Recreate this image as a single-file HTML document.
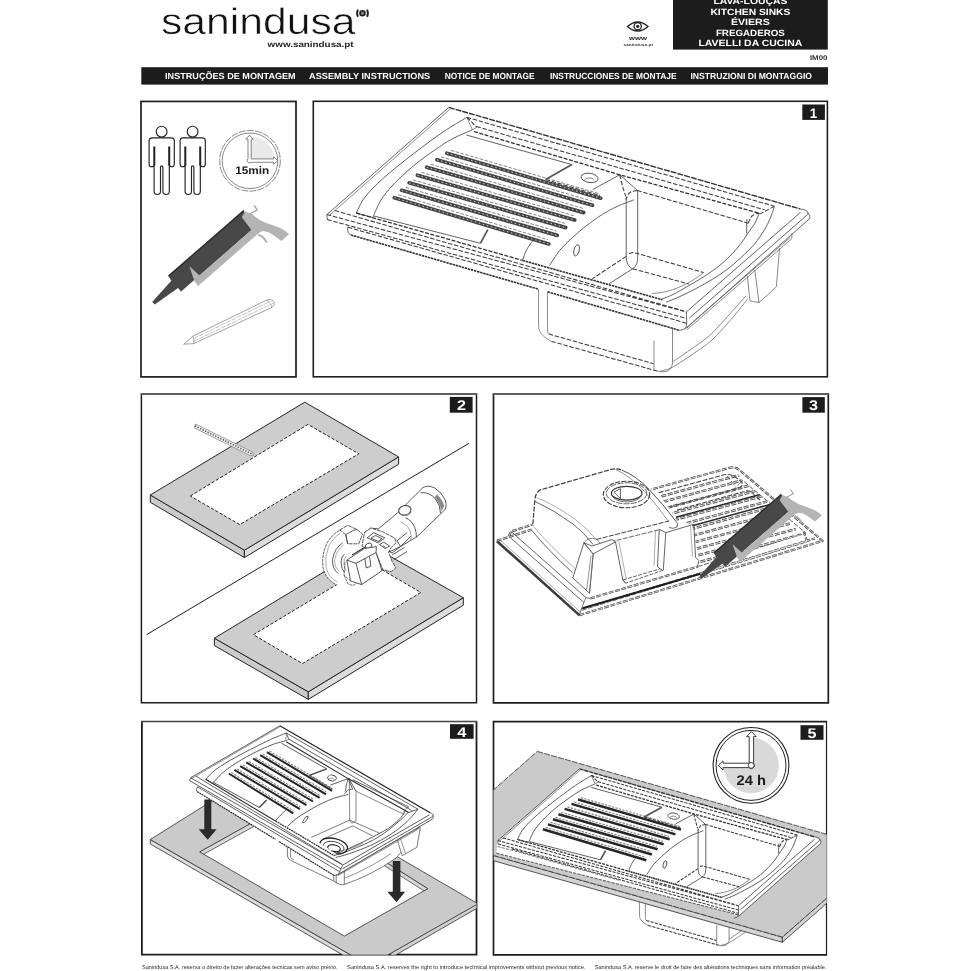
<!DOCTYPE html>
<html lang="pt">
<head>
<meta charset="utf-8">
<title>Sanindusa - Instruções de Montagem</title>
<style>
html,body{margin:0;padding:0;background:#fff;}
body{width:970px;height:971px;overflow:hidden;}
svg{display:block;will-change:transform;filter:grayscale(1);font-family:"Liberation Sans",sans-serif;text-rendering:geometricPrecision;}
</style>
</head>
<body>
<svg width="970" height="971" viewBox="0 0 970 971">
<rect width="970" height="971" fill="#fff"/>
<!-- header -->
<g id="header">
  <text x="160.9" y="34.4" font-size="37" textLength="194.6" lengthAdjust="spacingAndGlyphs" fill="#111" stroke="#fff" stroke-width="0.55" paint-order="fill stroke" style="paint-order:fill stroke">sanindusa</text>
  <g fill="none" stroke="#222" stroke-width="1.2">
    <circle cx="362.5" cy="13.2" r="2.5" fill="#777" stroke-width="1.6"/>
    <path d="M357.9 9.6 Q356.2 13.2 357.9 16.8 M367.1 9.6 Q368.8 13.2 367.1 16.8" stroke-width="1.9"/>
  </g>
  <text x="267.6" y="46.6" font-size="8" font-weight="bold" textLength="86" lengthAdjust="spacingAndGlyphs" fill="#222">www.sanindusa.pt</text>
  <!-- eye icon -->
  <g fill="none" stroke="#222" stroke-width="1.3">
    <path d="M627.5 26.5 Q637.7 17.5 648 26.5 Q637.7 35.5 627.5 26.5 Z"/>
    <circle cx="637.7" cy="26.3" r="3.6"/>
    <circle cx="637.7" cy="26.3" r="1.6" fill="#222" stroke="none"/>
  </g>
  <text x="629" y="40" font-size="5.6" font-weight="bold" textLength="18" lengthAdjust="spacingAndGlyphs" fill="#222">www</text>
  <text x="623.5" y="45.8" font-size="3.6" font-weight="bold" textLength="29.5" lengthAdjust="spacingAndGlyphs" fill="#444">sanindusa.pt</text>
  <rect x="673" y="0" width="154.8" height="49.6" fill="#1c1c1c"/>
  <g fill="#fff" font-size="9" font-weight="bold" text-anchor="middle">
    <text x="750.4" y="4.2" textLength="74" lengthAdjust="spacingAndGlyphs">LAVA-LOUÇAS</text>
    <text x="750.4" y="14.5" textLength="80" lengthAdjust="spacingAndGlyphs">KITCHEN SINKS</text>
    <text x="750.4" y="25.1" textLength="39" lengthAdjust="spacingAndGlyphs">ÉVIERS</text>
    <text x="750.4" y="35.7" textLength="69" lengthAdjust="spacingAndGlyphs">FREGADEROS</text>
    <text x="750.4" y="46.3" textLength="104" lengthAdjust="spacingAndGlyphs">LAVELLI DA CUCINA</text>
  </g>
  <text x="809.9" y="60.3" font-size="6.8" font-weight="bold" textLength="17.6" lengthAdjust="spacingAndGlyphs" fill="#333">IM00</text>
  <rect x="141.3" y="67.2" width="686.7" height="17.4" fill="#1c1c1c"/>
  <g fill="#fff" font-size="8.8" font-weight="bold">
    <text x="165.1" y="78.8" textLength="130.6" lengthAdjust="spacingAndGlyphs">INSTRUÇÕES DE MONTAGEM</text>
    <text x="309.1" y="78.8" textLength="121.1" lengthAdjust="spacingAndGlyphs">ASSEMBLY INSTRUCTIONS</text>
    <text x="444.8" y="78.8" textLength="89.8" lengthAdjust="spacingAndGlyphs">NOTICE DE MONTAGE</text>
    <text x="549.9" y="78.8" textLength="126.7" lengthAdjust="spacingAndGlyphs">INSTRUCCIONES DE MONTAJE</text>
    <text x="690.4" y="78.8" textLength="121.6" lengthAdjust="spacingAndGlyphs">INSTRUZIONI DI MONTAGGIO</text>
  </g>

</g>

<!-- frames -->
<g fill="none" stroke="#1e1e1e" stroke-width="1.7">
  <rect x="141" y="101.45" width="155" height="275.45"/>
  <rect x="313.3" y="101.3" width="514.1" height="275.5" stroke-width="1.6"/>
  <path d="M141.4 394 V702.8 H476.5 V394" stroke-width="1.5"/>
  <path d="M140.6 394 H477.3" stroke="#5e5e5e" stroke-width="1.8"/>
  <path d="M493.5 394 V702.8 H828.3 V394"/>
  <path d="M492.6 394 H829.2" stroke="#5e5e5e" stroke-width="1.8"/>
  <path d="M141.9 721.5 V954.7 H476.5 V721.5" stroke-width="1.8"/>
  <path d="M141 721.5 H477.2" stroke="#444" stroke-width="1.6"/>
  <path d="M826.5 721.6 V954.8" stroke-width="1.2"/>
  <path d="M827.1 721.6 H493.5 V954.8 H827.1" stroke-width="1.7"/>
</g>

<!-- panel 0 : tools -->
<g id="p0">
  <defs>
    <g id="person" fill="#fff" stroke="#222" stroke-width="1.15" stroke-linejoin="round">
      <path d="M152 137.8 H171.3 Q174.3 137.8 174.3 140.8 V164.2 A2.5 2.5 0 0 1 169.3 164.2 V191.3 A3.2 3.2 0 0 1 162.9 191.3 V167 A1.2 1.2 0 0 0 160.5 167 V191.3 A3.2 3.2 0 0 1 154.1 191.3 V164.2 A2.5 2.5 0 0 1 149.1 164.2 V140.8 Q149.1 137.8 152 137.8 Z"/>
      <path d="M154.3 146.4 V165.6 M169.2 146.4 V165.6" stroke-width="2" fill="none"/>
      <circle cx="161.6" cy="131.7" r="5.4"/>
    </g>
  </defs>
  <use href="#person"/>
  <use href="#person" x="31"/>
  <!-- clock -->
  <g fill="none" stroke="#6a6a6a" stroke-width="0.8">
    <path d="M250.6 159.4 V136.5 A24 24 0 0 1 274.6 159.4 Z" fill="#e9e9e9" stroke="none"/>
    <circle cx="250" cy="160.8" r="30.3" stroke-dasharray="7 1.2"/>
    <circle cx="250" cy="160.8" r="27.8"/>
    <path d="M248 158.6 V139.2 H246 L249.6 135.2 L253.2 139.2 H251.2 V158.9 H273.6 V156.9 L277.8 160.6 L273.6 164.3 V162.3 H251 A1.9 1.9 0 1 1 248 158.6 Z" fill="#fff" stroke="#666" stroke-width="0.8"/>
  </g>
  <text x="235.2" y="174" font-size="10.9" font-weight="bold" textLength="34" lengthAdjust="spacingAndGlyphs" fill="#1a1a1a">15min</text>
  <!-- caulk gun -->
  <g id="gun">
    <path d="M243.8 210.5 L251.5 230.1 L181.1 291.5 L178 287.9 L154.8 304.4 L152.2 301.9 L171.3 280.7 L168.5 276.1 Z" fill="#4b4745"/>
    <path d="M243.8 210.5 L168.5 276.1" stroke="#2a2727" stroke-width="1.4" fill="none"/>
    <path d="M245 211.3 L241.8 217.2 L251.5 230.1 L199.6 275.4 L189.3 266.3 L194.5 281.2 L198.1 285.9 L255.7 235.7 Q259 232.3 262.9 231.1 Q268 231.3 272.5 234.4 L281.4 240.9 L288.9 234 Q285 230.3 280.4 228 L272.2 224.9 Q263 222.5 255.7 217.2 Q252 213.5 248 212.6 Z" fill="#b7b3b2"/>
    <path d="M258.2 234.7 Q264 236.5 266.5 242.4" stroke="#b2aeae" stroke-width="2" fill="none"/>
    <path d="M249.5 214 L257.2 210 L254.1 205.3" stroke="#a5a2a2" stroke-width="1.3" fill="none"/>
  </g>
  <!-- pencil -->
  <g fill="none" stroke="#777" stroke-width="0.7">
    <path d="M183.7 344.2 L192.8 336.2 L267.2 299.8 Q272.5 298.8 274.3 302.2 Q275 305.5 272 307.3 L193.8 343.6 Z" fill="#fff"/>
    <path d="M192.8 336.2 Q194.5 339.5 193.8 343.6"/>
    <path d="M193.6 338.6 L270.5 301.2 M194 341.2 L273 303.4" stroke="#999" stroke-width="0.6" stroke-dasharray="5 1"/>
    <path d="M267.2 299.8 Q270 303 272 307.3" stroke="#999"/>
  </g>
</g>

<!-- panel 1 sink -->
<g id="p1" stroke-linejoin="round" stroke-linecap="butt">
<path d="M446.9 153.2L600.7 198.2M437 159.8L592.5 205.3M426.7 167.2L583.7 212.6M417.4 175.2L574.7 220M409.2 182.8L565.7 227.6M401.7 190.3L557.2 235.4M394.3 197.7L548.8 244" fill="none" stroke="#454545" stroke-width="3.7" stroke-linecap="round"/>
<path d="M446.9 153.2L600.7 198.2M437 159.8L592.5 205.3M426.7 167.2L583.7 212.6M417.4 175.2L574.7 220M409.2 182.8L565.7 227.6M401.7 190.3L557.2 235.4M394.3 197.7L548.8 244" fill="none" stroke="#c8c8c8" stroke-width="1" stroke-dasharray="1.6 2.6"/>
<path d="M450.9 150.3L599.9 193.9M441 156.9L591.7 201M430.7 164.3L582.9 208.3M421.3 172.3L573.8 215.7M413.1 179.9L564.8 223.3M405.7 187.4L556.4 231.1M398.3 194.8L548 239.7" fill="none" stroke="#666" stroke-width="0.8" stroke-dasharray="3.5 1.5"/>
<path d="M448.8 107.4L800 208.9" fill="none" stroke="#333" stroke-width="1.4" stroke-dasharray="6 1"/>
<path d="M800 208.9C800.9 209.1 804.2 209.6 805.5 210.2C806.8 210.8 807.4 211.5 807.8 212.2C808.1 212.9 807.6 214.1 807.6 214.5M448.8 107.4L326.9 214.6M326.9 214.6L327 217.5L327.6 220M800.5 212.4L686.3 312M807.3 214.8L689.5 318M809.6 218.6L690.2 324.6M807.7 212.5C808 213 809.4 214.5 809.7 215.5C810 216.5 809.6 218.1 809.6 218.6M686.3 312C686.3 314 686.9 321.2 686.6 324C686.4 326.8 685.9 327.5 684.8 328.6C683.7 329.7 680.6 330.1 679.8 330.4M690.2 324.6L686.8 328.2M466.8 117.3C462.8 119.8 451 126.6 443 132C435 137.4 426 144.2 419 149.5C412 154.8 406.5 159.1 401 163.5C395.5 167.9 390.8 171.7 386 175.9C381.2 180.1 376.4 184.5 372.5 188.5C368.6 192.5 365.6 195.9 362.9 200C360.2 204.1 357.4 210.8 356.3 213M472.4 129.8C469 131.3 458.1 135.7 452 139C445.9 142.3 440.9 145.8 435.5 149.5C430.1 153.2 424.4 157.2 419.5 161C414.6 164.8 410.4 168.4 405.8 172.6C401.2 176.8 396.1 181.4 392 186C387.9 190.6 384.2 194.8 381 200C377.8 205.2 374.3 214.2 373 217M356.3 213L373 217.6M347.6 226.8C347.7 227.8 347.6 231.1 348.2 232.5C348.8 233.9 350.5 234.6 351 235M466.4 135L572 164.6M374 216L480.4 243.3M619.8 174.8L592.6 189.6M619.8 174.8L637.3 190.4M634 199.8C631.2 200.9 622.2 204.1 617 206.5C611.8 208.9 607.7 211.1 602.5 214.3C597.3 217.6 591.1 222.1 586 226C580.9 229.9 576.4 233.9 572 238C567.6 242.1 563.4 245.9 559.6 250.5C555.9 255.1 551.2 263.1 549.5 265.6M532.4 241.2C531.4 242.7 528.1 246.8 526.5 250C524.9 253.2 523.2 258.7 522.5 260.4M626.2 198L626.2 256.4M637.7 190.5L637.7 256.4M626.2 256.4C626.4 257.7 626.5 262 627.6 264C628.7 266 631.1 268.7 632.6 268.6C634.1 268.5 635.9 265.5 636.8 263.5C637.6 261.5 637.6 257.6 637.7 256.4M632.8 268.8L608.9 283.8M746.8 219L746.6 233.5M774.4 206.2C773.9 207.7 773 211.4 771.5 215C770 218.6 768.4 223.1 765.5 228C762.6 232.9 758.3 239.5 754.2 244.4C750.1 249.3 745.5 253.3 741 257.5C736.5 261.7 731.8 265.8 727 269.5C722.2 273.2 717 276.4 712 279.5C707 282.6 702.3 285.2 697 288C691.7 290.8 685.2 294.1 680 296.5C674.8 298.9 668.3 301.2 666 302.2M759.2 213.1C758.5 214.8 756.6 220 755 223C753.4 226 751.6 227.8 749.3 231.2C747 234.6 744 239.5 741 243.5C738 247.5 734.7 251.2 731 255C727.3 258.8 723.5 262.4 719 266C714.5 269.6 709.1 273.2 704 276.5C698.9 279.8 693.4 283 688.2 286C683 289 677.5 292.3 673 294.5C668.5 296.7 663 298.6 661 299.4" fill="none" stroke="#3a3a3a" stroke-width="0.8"/>
<path d="M326.9 214.6L686.3 312M466.8 117.3L774.4 206.2M476.5 126.6L764.5 209.8M774.4 206.2L760.7 213.6M466.8 117.3L476.9 127.2M334.8 210.6L684 311M327.3 219.6L686.4 318.4M348 227.3L686.5 323.2M545.6 179.5L600 195.6M619.8 174.8C620.2 176.7 621.5 182.4 622.5 186C623.5 189.6 625.2 194.6 625.8 196.3M637.3 190.4C636.1 190.8 631.9 191 630 192.5C628.1 194 626.5 198.3 625.8 199.5M626.2 256.4L592.4 278.7M629 253.4L633 252.4L637.7 253.6L703.7 272.6M632.8 268.8L688.9 284M637.3 190.4L748.2 223.2M748.2 223.2C748.8 222 750.2 217.7 752 216C753.8 214.3 758 213.6 759.2 213.1M551.5 341.4L657.3 371.1M548.8 334L653.6 363.7" fill="none" stroke="#3c3c3c" stroke-width="1.05" stroke-dasharray="4.5 1.7"/>
<path d="M450.6 108.6L329.2 215.6M684.7 329.2L790.3 237.4M686.5 330.2L791.8 238.6L792 233M466.8 117.3L472.4 129.8L476.9 127.2M703.7 272.6C701.4 274.2 694.6 279.4 690 282C685.4 284.6 680.3 286.8 676 288.5C671.7 290.2 668 291.1 664 292C660 292.9 654 293.3 652 293.6M584 180.3C584.5 180 585.7 178.7 587 178.3C588.3 178 590.8 177.9 592 178.2C593.2 178.5 594.1 179.9 594.5 180.2M538.6 289.2C538.6 295 538.3 316.8 538.6 324C538.9 331.2 539.3 330.2 540.5 332.5C541.7 334.8 544.2 336.5 546 338C547.8 339.5 550.6 340.8 551.5 341.4M547.5 291.8C547.5 297.8 547.3 321 547.5 328C547.7 335 548.6 333 548.8 334M654 340.5L654 370.2M672.5 328.2L672.5 364M657.3 371.1C658.4 371.2 662 372.1 664 371.8C666 371.6 668.1 370.9 669.5 369.6C670.9 368.3 672 364.9 672.5 364M660 371.3C662 370.7 667 370.1 672 367.5C677 364.9 683.8 360.2 690 356C696.2 351.8 704 346.8 709.5 342.2C715 337.6 718.9 332.9 723 328.5C727.1 324.1 730.1 320.7 734.2 315.8C738.3 310.9 745.2 302.1 747.4 299.3M672.5 362C675.4 360 683.8 354.4 690 350C696.2 345.6 704.2 340.2 709.5 335.6C714.8 331 718.1 326.6 722 322.5C725.9 318.4 728.6 315.2 732.6 310.8C736.6 306.4 743.6 298.5 745.8 296M747.4 276.2L749.9 300.9L759 302.6L776.3 286.9L779.6 248.1M754.8 270L759 302.6" fill="none" stroke="#585858" stroke-width="0.7"/>
<path d="M474 131.6L619.8 174.8L760.7 213.6M356.3 213L522.5 260.4" fill="none" stroke="#333" stroke-width="1.3" stroke-dasharray="4 1.5"/>
<path d="M522.5 260.4L662.5 299.8M351 235L538.6 289.2M547.5 291.8L679.8 330.4" fill="none" stroke="#333" stroke-width="1.6" stroke-dasharray="2.5 0.7"/>
<path d="M572 164.6L545.6 179.5M480.4 243.3L487.8 229.7" fill="none" stroke="#555" stroke-width="1.7"/>
<ellipse cx="0" cy="0" rx="2.6" ry="5.8" fill="none" stroke="#3a3a3a" stroke-width="0.8" transform="matrix(1.000 0.000 0.000 1.000 576.6 250.3) rotate(14)"/>
<ellipse cx="0" cy="0" rx="8.6" ry="4.6" fill="none" stroke="#3a3a3a" stroke-width="0.8" transform="matrix(1.000 0.000 0.000 1.000 589.6 177.9) rotate(8)"/>
</g>

<!-- panel 2 : cutting -->
<g id="p2" stroke-linejoin="round">
  <!-- countertop A -->
  <g stroke="#242424" stroke-width="1">
    <path d="M150.3 495 L244.4 550.2 L244.4 557.6 L150.3 502.3 Z" fill="#cdcbca"/>
    <path d="M244.4 550.2 L398.6 456.9 L398.6 464.2 L244.4 557.6 Z" fill="#dddcdb"/>
    <path d="M150.3 495 L304.8 402.2 L398.6 456.9 L244.4 550.2 Z" fill="#cfcdcc"/>
    <path d="M190.3 496 L308 424.4 L358.8 453.8 L239.8 524.6 Z" fill="#fff" stroke="#222" stroke-width="1" stroke-dasharray="3.2 1.8"/>
  </g>
  <!-- pencil strip -->
  <g stroke="#6a6a6a" stroke-width="0.6" fill="#f2f2f2">
    <path d="M195.4 424 L252.6 452 L253.4 455.4 L250.4 455.6 L194.4 428 Z"/>
    <path d="M195 426 L251.6 453.8" stroke-dasharray="1.4 1.4" stroke="#5a5a5a" stroke-width="1.6" fill="none"/>
  </g>
  <!-- diagonal -->
  <path d="M146.7 634.6 L469 443.3" stroke="#1e1e1e" stroke-width="1" fill="none"/>
  <!-- countertop B -->
  <g stroke="#242424" stroke-width="1">
    <path d="M214.4 638.2 L308.3 691.8 L308.3 699.4 L214.4 645.6 Z" fill="#cdcbca"/>
    <path d="M308.3 691.8 L463.3 597.7 L463.3 605.2 L308.3 699.4 Z" fill="#dddcdb"/>
    <path d="M214.4 638.2 L369.2 544.5 L463.3 597.7 L308.3 691.8 Z" fill="#cfcdcc"/>
    <path d="M253.4 634.7 L371.7 563.6 L420.8 592.5 L302.5 663.6 Z" fill="#fff" stroke="#222" stroke-width="1" stroke-dasharray="3.2 1.8"/>
  </g>
  <!-- grinder -->
  <g id="grinder" stroke="#3a3a3a" stroke-width="0.85" fill="#fff">
    <!-- disc -->
    <path d="M339.5 530.6 Q331 535 326.2 545 Q321.5 556.5 323 567.5 Q325.5 579.5 336.6 584.8 L352 582 L352 534 Z" stroke="none"/>
    <path d="M339.5 530.6 Q331 535 326.2 545 Q321.5 556.5 323 567.5 Q325.5 579.5 336.6 584.8" fill="none" stroke="#4a4a4a" stroke-dasharray="3 0.8" stroke-width="0.9"/>
    <path d="M340.6 533 Q333 537.5 328.6 546.6 Q324.6 557 326 567 Q328.3 577.6 337.4 582" fill="none" stroke="#777" stroke-width="0.6"/>
    <path d="M342.6 542.9 Q334.5 548 332.5 559.6 Q332.3 569.5 338.4 573.5" fill="none" stroke="#444"/>
    <path d="M343.6 545.2 Q336.5 550 334.6 560 Q334.6 568 339.2 571.2" fill="none" stroke="#777" stroke-width="0.6"/>
    <path d="M344.6 554 Q340.6 557.5 341.2 563.6 Q341.6 569.4 344.4 572.4" fill="none"/>
    <path d="M346.4 556 Q343.6 559 343.9 563.5 Q344.2 568 346 570.4" fill="none" stroke="#666" stroke-width="0.6"/>
    <!-- guard top -->
    <path d="M339.8 529.9 L347.7 525.3 L357 529.5 L362.5 534.1 L358.8 543.8 L347.7 543.8 L345.8 534.6 Z" stroke-dasharray="4 0.8"/>
    <path d="M345.8 534.6 L353.3 530.4 L357 529.5 M347.7 543.8 L345.8 534.6" fill="none"/>
    <!-- motor body -->
    <path d="M422.9 487.6 Q428 484.6 434.9 488.1 Q442 492.5 445.2 500 Q447.3 506.5 444.6 510 L416.4 537.2 L409.5 541 L400.6 546.5 L392 553 L383 548 L371 540 L364.4 532.7 L370.9 528.1 L378.3 528.9 L397.8 512.6 Z"/>
    <path d="M420.6 492.7 Q429 491.5 435.6 499 Q440.5 505.5 440.5 513.1" fill="none"/>
    <path d="M437 494.5 Q442.5 499.5 444.3 506 L441.2 511.5 Q440.5 503.5 434.5 497.5 Z" fill="#8a8a8a" stroke="none"/>
    <path d="M405.3 517.7 Q412 520.5 414.8 527.5 Q416.6 532.5 416.4 537.2" fill="none"/>
    <path d="M400.5 521.8 Q407.5 524.5 410.2 531 Q411.8 536 410.8 540" fill="none" stroke="#666" stroke-width="0.6"/>
    <ellipse cx="404.8" cy="510.3" rx="6.2" ry="4.7" transform="rotate(-14 404.8 510.3)" stroke="#333" stroke-width="1"/>
    <path d="M399 512.6 Q402.5 517 408 515.4 Q410.6 514.2 411 511.5" fill="none" stroke="#666" stroke-width="0.6"/>
    <path d="M407.1 532.6 L396.9 540.9 L400.6 546.5 M410.8 536.3 L400.6 546.5" fill="none"/>
    <!-- gear head upper housing -->
    <path d="M364.4 532.7 L370.9 528.1 L382.9 531.8 L395 538.3 L395.9 542.9 L391.3 547.5 L388.5 552.2 L392.2 561.5 L395.9 567.9 L391.3 571.7 L382.9 569.8 L376 552.6 L362 546 Z" stroke-dasharray="4 0.8"/>
    <path d="M367.2 537.8 L373.7 532.7 L384.8 537.8 L378.3 542.9 Z M370.9 538.2 L375.5 535.4 L382 538.7 L378.3 541.4 Z" />
    <ellipse cx="368.6" cy="545.7" rx="3.4" ry="2.4" transform="rotate(-25 368.6 545.7)"/>
    <path d="M379.5 544.5 L383.8 542.2 L389.5 546 L385.2 548.6 Z M383 545.7 L385.6 547.4" />
    <path d="M392.2 555 L404.3 547.5 M394 559.6 L407 551.5 M388.5 552.2 L400.6 546.5" fill="none"/>
    <!-- gear box cube -->
    <path d="M346.8 560.1 L364.4 548.5 L376.4 546.6 L376 552.6 L382 570.7 L361.6 584.6 L350.5 580.9 Z"/>
    <path d="M346.8 560.1 L356 563.3 L361.6 584.6 M356 563.3 L376 552.6" fill="none"/>
    <path d="M364.8 558.2 L366.2 568 L370.9 566.1 L369.5 556.4" fill="none"/>
    <path d="M345 562 L344 575 L350.5 580.9 M344 575 L348 584 L353 585.5 L356.5 583" fill="none" stroke="#555" stroke-dasharray="3 0.8"/>
  </g>
</g>

<!-- panel 3 : silicone -->
<g id="p3" fill="none" stroke-linejoin="round">
  <clipPath id="hatch3"><path d="M657 492 L729 473 Q741 472 742 481 L808 533 L700 566 L697 548 L692 524 L677 521 L672 512 Z"/></clipPath>
  <!-- base rim -->
  <g stroke-dasharray="5 1.5">
    <path id="rim3" d="M579.3 615.2 L822.6 540.9 L740 470.5 Q735 466 728.5 468 L651 489.5 M581.5 609.6 L815 538.4 M700.4 573.8 L807 541.2 L803.5 531 M590 598.5 L698 566.5 M496.7 540.9 L532 529.5 M508.8 536.3 L511 531.5 L533 524.5" stroke="#484848" stroke-width="2.2"/>
    <path d="M579.3 615.2 L822.6 540.9 L740 470.5 Q735 466 728.5 468 L651 489.5 M581.5 609.6 L815 538.4 M700.4 573.8 L807 541.2 L803.5 531 M590 598.5 L698 566.5 M496.7 540.9 L532 529.5 M508.8 536.3 L511 531.5 L533 524.5" stroke="#fff" stroke-width="0.7"/>
    <path d="M698 566.5 L806 533 L742 480" stroke-width="1" stroke="#666"/>
    <path d="M508.8 536.3 L583.9 602.5 M511 531.5 L586 597.6" stroke-width="0.9" stroke-dasharray="none" stroke="#555"/>
  </g>
  <path d="M497 541.2 L579.6 615.4" stroke="#3c3c3c" stroke-width="2.6"/>
  <path d="M499.3 539.4 L581.5 613" stroke="#888" stroke-width="0.7"/>
  <path d="M579.5 614 L583.9 602.5 L586 597.6 L590 598.5" stroke="#555" stroke-width="0.8"/>
  <path d="M582.6 608.2 L700.4 573.8" stroke="#1e1e1e" stroke-width="2"/>
  <!-- drainer underside hatch -->
  <g clip-path="url(#hatch3)" stroke-dasharray="5 1.6">
    <path d="M655 498 L745 473.5 M657 503.5 L748 478.8 M661 509.5 L752 484.8 M668 514.5 L757 490.5 M674 520 L762 496.2 M680 525 L767 501.5 M684 531 L772 507 M686 537.5 L778 512.5 M688 544 L784 518 M690 550.5 L790 523.5 M692 557 L796 529 M694 563.5 L802 534.5" stroke="#484848" stroke-width="2.5"/>
    <path d="M655 498 L745 473.5 M657 503.5 L748 478.8 M661 509.5 L752 484.8 M668 514.5 L757 490.5 M674 520 L762 496.2 M680 525 L767 501.5 M684 531 L772 507 M686 537.5 L778 512.5 M688 544 L784 518 M690 550.5 L790 523.5 M692 557 L796 529 M694 563.5 L802 534.5" stroke="#fff" stroke-width="0.8"/>
    <path d="M676 517.3 L760 494.5 M684 528 L770 504.5" stroke="#2a2a2a" stroke-width="1.5" stroke-dasharray="none"/>
  </g>
  <g stroke="#4a4a4a" stroke-width="1.1" stroke-dasharray="5 1.5">
    <path d="M658.6 492.7 L724.1 474.8 Q731 473.5 735 477 L741.4 481.6 Q743.5 485 740.5 487.5 L734 489.5 L669.7 507"/>
    <path d="M677.1 510.1 L746.4 490.9 Q752 490.8 755 495.8 L760 500"/>
    <path d="M727 476 L735.5 486.5 M741 482 L734 489.5" stroke-width="0.8" stroke="#666"/>
  </g>
  <!-- bowl -->
  <g stroke="#3e3e3e" stroke-width="0.8">
    <path d="M532.9 524.2 L534.8 500.1 Q535.5 492.5 540.3 489.9 L612 469.2 Q616.5 468.2 622 470.2" stroke-dasharray="5 1.4" stroke-width="1.2"/>
    <path d="M622 470.2 Q636 475.5 649.3 489.7 Q663 504 675.7 521" stroke-width="0.9"/>
    <path d="M615.5 469.4 Q631 476.5 644.5 491.5 Q657 505 668.5 521.5" stroke="#666" stroke-width="0.7"/>
    <!-- left face arcs -->
    <path d="M535.2 501.5 Q554 510 573 524 Q584 532.5 593.2 544.6"/>
    <path d="M536.5 497.5 Q556 505.5 576 520 Q588 529 596.5 540" stroke="#777" stroke-width="0.6"/>
    <path d="M532.3 531 Q548 550 572.8 573"/>
    <path d="M533.5 526.5 Q550 546 574.5 568" stroke="#777" stroke-width="0.6"/>
    <!-- front top edge -->
    <path d="M596.5 539.4 L669.1 521" stroke-dasharray="5 1.4" stroke-width="1"/>
    <path d="M598 545 L660 529.5" stroke-dasharray="5 1.4" stroke-width="0.9" stroke="#555"/>
    <path d="M583.9 542.8 Q589 536 596.5 539.4 Q600 541.5 602 546.5" stroke="#555" stroke-width="0.7"/>
    <!-- front-left corner & block 1 -->
    <path d="M583.9 542.8 L572.8 578 L589.5 593.2 L593.2 553.9 Z" fill="#fff"/>
    <path d="M583.9 542.8 L593.2 553.9 L615.5 541.9 L612 539.5 L592 546 Z" fill="#fff"/>
    <path d="M593.2 553.9 L589.5 593.2 M591 556 L586.5 590.5" stroke="#666" stroke-width="0.7"/>
    <path d="M615.5 541.9 L622.9 580 L625.5 583.2"/>
    <path d="M618.8 541 L626.2 579"  stroke="#777" stroke-width="0.6"/>
    <!-- notch -->
    <path d="M622.9 580 L660 568.8 L663.3 570.2 L625.5 583.2 Z" stroke-dasharray="4 1.3"/>
    <path d="M659.2 529.3 L657.5 566.5 L660 568.8 M665.8 532.6 L663.3 570.2"/>
    <path d="M655.5 531.5 L654 566" stroke="#777" stroke-width="0.6"/>
    <path d="M659.2 529.3 L665.8 532.6 L693.8 524.3"/>
    <path d="M693.8 524.3 L695.5 557.3 L698.8 560.6 L697.5 566.5" />
    <path d="M690.5 526 L692.5 556.5" stroke="#777" stroke-width="0.6"/>
    <path d="M675.7 521 Q679 523.5 677.2 526.8 Q673.5 529.5 669.1 527.5" stroke="#444"/>
    <!-- drain -->
    <ellipse cx="626.5" cy="494.5" rx="23.2" ry="13.3" stroke-dasharray="5 1.3" stroke-width="1.1"/>
    <ellipse cx="626.5" cy="493.3" rx="20.3" ry="10.5" stroke="#555" stroke-width="0.9" stroke-dasharray="6 1.2"/>
    <ellipse cx="626.7" cy="493.2" rx="15.3" ry="6.9" stroke-width="1.2" stroke="#333"/>
    <path d="M611.6 494.6 Q614 501.5 626.7 502 Q639.5 501.6 641.8 494.6" stroke="#555" stroke-width="0.8"/>
    <path d="M613.9 492.2 L620.5 488.5 L620.5 498.6 Z" stroke="#444" stroke-width="0.8"/>
  </g>
  <!-- gun -->
  <use href="#gun" transform="translate(781.4 494.2) scale(0.897) translate(-243.8 -210.5)"/>
</g>

<!-- panel 4 -->
<clipPath id="clip4"><rect x="141.9" y="721.5" width="334.6" height="233.2"/></clipPath>
<g id="p4" clip-path="url(#clip4)" stroke-linejoin="round">
<!-- countertop p4 -->
<g stroke="#2e2e2e" stroke-width="0.8" stroke-linejoin="round">
  <path d="M150.3 839.5 L349 954 L349 958.5 L150.3 844 Z" fill="#dddcdb"/>
  <path d="M390.6 953.4 L478 903 L478 907.6 L390.6 958 Z" fill="#d3d1d0"/>
  <path d="M150.3 839.5 L255.2 773.9 L478 903.8 L390.6 953.4 L370 965 L349 954 Z" fill="#cccac9"/>
  <path d="M199.8 851.9 L290 801.7 L427.7 888.7 L344.3 936.1 Z" fill="#fff"/>
  <path d="M199.8 851.9 L290 801.7 L427.7 888.7 L424 890.8 L290.5 806.2 L203.6 854.2 Z" fill="#dad8d7" stroke-width="0.7"/>
</g>
<g fill="#2a2a2a">
  <path d="M204.3 799.5 H211.3 V829.2 H216.6 L207.7 839.8 L198.6 829.2 H204.3 Z"/>
  <path d="M392.8 860.9 H400.4 V891.8 H405.2 L396.5 902.3 L387.4 891.8 H392.8 Z"/>
</g>
<!-- p4 underside -->
<g fill="#fff" stroke="#444" stroke-width="0.7" stroke-linejoin="round">
  <path d="M287.4 836 L287.4 856 Q288 859.5 291.5 860.8 L333.8 881 Q340 885.8 344.3 884.5 Q372 875 396 858 L420.3 830 L400 820 Z"/>
  <path d="M333.8 866 L333.8 881 M336.2 867.5 L336.2 883.4 M344.3 870.5 L344.3 884.5" fill="none"/>
  <path d="M344.3 878.4 Q370 868 391 853.5" fill="none" stroke="#666"/>
  <path d="M290.5 839 L290.5 857 Q291.5 859 294 860" fill="none" stroke="#666"/>
  <path d="M397.2 840 L402.2 855.6 L417 847.3 L420.3 827.5 L405 833 Z"/>
  <path d="M400.5 838.5 L405.5 853.8" fill="none" stroke="#666"/>
</g>
<path d="M279.8 725.8L430.2 812.8L433.2 815.3L432.3 819.2L341 872.8L334.1 875.5L197.2 791.6L197.7 786.6L189.6 780.6L190.7 777.7Z" fill="#fff" stroke="none"/>
<path d="M266.9 752.1L332.1 790.8M260.2 755.1L326 794.3M253.1 758.5L319.6 797.8M246.3 762.4L313 801.5M240.2 766.1L306.4 805.2M234.4 769.9L299.9 809.1M228.8 773.5L293.3 813.4" fill="none" stroke="#262626" stroke-width="2"/>
<path d="M269.4 751.1L332.3 788.4M262.7 754.1L326.2 791.9M255.6 757.5L319.7 795.4M248.8 761.4L313.1 799.1M242.7 765.1L306.5 802.8M237 768.9L300.1 806.7M231.3 772.6L293.5 811" fill="none" stroke="#8c8c8c" stroke-width="1.2" stroke-dasharray="2.4 1.2"/>
<path d="M279.8 725.8L430.2 812.8" fill="none" stroke="#222" stroke-width="1.2"/>
<path d="M430.2 812.8C430.6 813 432.1 813.5 432.6 814C433.1 814.4 433.2 814.9 433.2 815.3C433.2 815.8 432.6 816.4 432.5 816.7M279.8 725.8L190.7 777.7M190.7 777.7L190 779.4L189.6 780.9M429.4 814.9L342.8 865M432.2 816.8L342.6 868.8M432.3 819.2L341 872.8M433.1 815.5C433.1 815.8 433.4 816.8 433.2 817.4C433.1 818 432.5 818.9 432.3 819.2M342.8 865C342.2 866.2 340.4 870.6 339.4 872.2C338.5 873.8 338 874.2 337.2 874.8C336.3 875.3 334.6 875.3 334.1 875.5M341 872.8L338.3 874.7M286.3 733C283.6 734.1 275.9 737.1 270.5 739.5C265.1 742 258.7 745.2 253.9 747.7C249 750.1 245.1 752.2 241.2 754.3C237.2 756.4 233.9 758.2 230.4 760.2C226.9 762.2 223.3 764.4 220.3 766.4C217.3 768.4 214.9 770.1 212.5 772.3C210 774.4 206.8 778.1 205.7 779.3M285.8 740.6C283.7 741.3 277.1 742.9 273.2 744.3C269.2 745.7 265.8 747.4 262.1 749C258.4 750.7 254.6 752.6 251.1 754.4C247.6 756.2 244.5 757.9 241.1 760C237.8 762 234 764.3 230.7 766.6C227.4 768.9 224.4 771.1 221.5 773.8C218.5 776.5 214.4 781.5 212.9 783M205.7 779.3L212.8 783.4M197.7 786.6C197.5 787.1 196.5 789.1 196.4 789.9C196.4 790.8 197 791.4 197.2 791.6M281.4 743.2L326.7 768.9M213.7 782.5L259.2 807.4M348.1 778.6L330.3 785.1M348.1 778.6L352.7 789.2M348.4 794.4C346.7 794.8 341.3 796 338 797C334.7 798 332 798.9 328.5 800.4C325 801.9 320.6 804 317 805.9C313.3 807.8 309.9 809.8 306.6 811.9C303.2 813.9 300 815.8 296.9 818.2C293.7 820.6 289.1 824.9 287.5 826.3M285.8 810.5C284.9 811.3 282.1 813.4 280.4 815.2C278.7 816.9 276.3 820 275.5 821M417.9 809.2C417.2 810 415.7 812.1 413.9 814.2C412.1 816.2 410 818.7 407.2 821.4C404.3 824.1 400.2 827.6 396.7 830.2C393.2 832.8 389.8 834.8 386.3 837C382.8 839.1 379.2 841.2 375.7 843C372.2 844.8 368.7 846.3 365.2 847.7C361.8 849.1 358.7 850.3 355.2 851.6C351.7 852.8 347.5 854.3 344.2 855.3C340.9 856.2 336.9 857.1 335.5 857.5M408.2 812.1C407.4 813 404.9 816 403.2 817.6C401.5 819.3 400.2 820.2 398 822C395.9 823.9 393 826.5 390.3 828.7C387.6 830.8 384.9 832.7 381.9 834.7C379 836.6 376 838.5 372.7 840.3C369.4 842 365.6 843.7 362.1 845.3C358.5 846.9 354.8 848.3 351.3 849.7C347.9 851 344.2 852.5 341.2 853.5C338.3 854.5 335 855.1 333.8 855.4" fill="none" stroke="#333" stroke-width="0.8"/>
<path d="M190.7 777.7L342.8 865M286.3 733L417.9 809.2M288.7 739.1L411.8 810.6M417.9 809.2L408.8 812.5M286.3 733L288.8 739.5M195.7 776L341.9 864.2M189.6 780.6L341 868.8M197.7 786.9L339.6 871.7M309.4 775.4L332.4 789.2M348.1 778.6C347.8 779.8 346.9 783.2 346.4 785.4C345.9 787.6 345.4 790.7 345.3 791.7M352.7 789.2C352 789.3 349.8 789.1 348.4 789.8C347 790.6 345 793 344.4 793.6" fill="none" stroke="#3a3a3a" stroke-width="0.8"/>
<path d="M280.4 726.6L191.6 778.5M336.9 875.1L417.1 828.9M337.5 875.9L417.5 829.7L419.2 826.4M286.3 733L285.8 740.6L288.8 739.5M363 843C361.4 843.7 356.5 846.2 353.4 847.4C350.3 848.6 347.1 849.5 344.5 850.2C341.8 850.8 339.7 851.1 337.4 851.3C335.2 851.5 332 851.3 330.9 851.3M328.5 779C328.9 778.8 329.8 778.2 330.6 778.1C331.4 778 332.6 778.1 333.1 778.4C333.7 778.7 333.7 779.6 333.9 779.8" fill="none" stroke="#555" stroke-width="0.6"/>
<path d="M286.2 741.8L348.1 778.6L408.8 812.5M205.7 779.3L275.5 821" fill="none" stroke="#2a2a2a" stroke-width="1.1"/>
<path d="M275.5 821L334.4 855.8M197.2 791.6L275.4 839.3M279.1 841.6L334.1 875.5" fill="none" stroke="#2a2a2a" stroke-width="1.2" stroke-dasharray="2 0.6"/>
<path d="M326.7 768.9L309.4 775.4M259.2 807.4L266.7 800.1" fill="none" stroke="#444" stroke-width="1.4"/>
<ellipse cx="0" cy="0" rx="2.6" ry="5.8" fill="none" stroke="#3a3a3a" stroke-width="1.5" transform="matrix(0.502 0.082 -0.281 0.589 305.4 819.5) rotate(14)"/>
<ellipse cx="0" cy="0" rx="8.6" ry="4.6" fill="none" stroke="#3a3a3a" stroke-width="1.5" transform="matrix(0.505 0.080 -0.273 0.584 332 778) rotate(8)"/>
<!-- p4 bowl + underside (hand drawn) -->
<g fill="none" stroke="#333" stroke-width="0.8" stroke-linejoin="round">
  <!-- bowl interior -->
  <path d="M349.4 778.9 L349.7 820.1 M356 791.2 L356 820.9" stroke="#555" stroke-width="0.7"/>
  <path d="M348.6 778 L356 791.2 M352.7 779.7 L408.8 806.9" />
  <path d="M356 791.2 L403.8 814.3" stroke="#555" stroke-width="0.7"/>
  <path d="M349.7 820.1 Q351 825.5 356 820.9" stroke="#555" stroke-width="0.7"/>
  <path d="M349.7 820.1 L379.9 833.3 M349.7 820.1 L311.4 837.4" stroke="#444" stroke-width="0.7"/>
  <path d="M352.7 825.9 L372.5 835.8 M352.7 825.9 L323 839" stroke="#444" stroke-width="0.7"/>
  <path d="M405.5 811 Q398 824 379.9 833.3 Q364 842 347.7 849" />
  <path d="M408.8 806.9 Q403.5 809 403.8 814.3" stroke="#555" stroke-width="0.7"/>
  <!-- drain -->
  <clipPath id="drclip"><path d="M288 822.6 L345 859.6 L430 812 L350 765 Z"/></clipPath>
  <g clip-path="url(#drclip)">
  <ellipse cx="333.7" cy="846" rx="14" ry="7.6" transform="rotate(12 333.7 846)" stroke="#222" stroke-width="1.3"/>
  <ellipse cx="333.7" cy="847" rx="10.5" ry="5.4" transform="rotate(12 333.7 847)" stroke="#444" stroke-width="0.9"/>
  <ellipse cx="334" cy="848.2" rx="6.4" ry="3.3" transform="rotate(12 334 848.2)" stroke="#222" stroke-width="1.2"/>
  </g>
</g>
</g>

<!-- panel 5 -->
<clipPath id="clip5"><rect x="493.5" y="721.6" width="333.2" height="233.2"/></clipPath>
<g id="p5" clip-path="url(#clip5)" stroke-linejoin="round">
<path d="M639.5 890.5C639.5 894.4 639.3 909 639.5 913.8C639.7 918.6 639.9 917.9 640.7 919.5C641.6 921.1 643.2 922.2 644.4 923.2C645.7 924.2 647.5 925.1 648.1 925.4M645.4 892.3C645.4 896.3 645.3 911.8 645.4 916.5C645.6 921.2 646.2 919.8 646.3 920.5M716.7 924.8L716.7 944.7M729.1 916.6L729.1 940.6M718.9 945.3C719.6 945.4 722 946 723.4 945.8C724.7 945.6 726.1 945.2 727 944.3C728 943.4 728.7 941.2 729.1 940.6M720.7 945.4C722 945 725.4 944.6 728.7 942.9C732.1 941.2 736.6 938 740.8 935.2C744.9 932.4 750.1 929 753.8 926C757.5 922.9 760.1 919.8 762.8 916.8C765.6 913.9 767.6 911.6 770.3 908.3C773.1 905.1 777.7 899.1 779.2 897.3M729.1 939.2C731 937.9 736.6 934.1 740.8 931.2C744.9 928.3 750.2 924.6 753.8 921.6C757.4 918.5 759.6 915.6 762.2 912.8C764.7 910 766.6 907.9 769.3 905C771.9 902 776.6 896.7 778.1 895.1M779.2 881.8L780.8 898.4L786.9 899.5L798.5 889L800.7 863M784.1 877.7L786.9 899.5" fill="none" stroke="#585858" stroke-width="0.7"/>
<path d="M648.1 925.4L718.9 945.3M646.3 920.5L716.4 940.4" fill="none" stroke="#3c3c3c" stroke-width="1.05" stroke-dasharray="3.2 1.2"/>
<!-- countertop p5 -->
<g stroke="#2e2e2e" stroke-width="0.8">
  <path d="M493.5 855.5 L782.3 937.1 L782.3 942.3 L493.5 860.7 Z" fill="#d6d4d3"/>
  <path d="M782.3 937.1 L828 897 L828 902.2 L782.3 942.3 Z" fill="#d3d1d0"/>
  <path d="M537.3 751.4 L828 834.7 L828 897 L782.3 937.1 L493.5 855.5 L480 851.7 L480 801.8 Z" fill="#cccac9" stroke-dasharray="6 1.2"/>
</g>
<path d="M579.4 768.9L814.4 836.8L819.6 839L820.8 843.3L740.9 914.2L738.4 914.8L496.4 853.2L497.4 841.6L497.8 840.6Z" fill="#fff" stroke="none"/>
<path d="M578.1 799.5L681 829.6M571.5 803.9L675.5 834.4M564.6 808.9L669.6 839.3M558.4 814.2L663.6 844.2M552.9 819.3L657.6 849.3M547.9 824.4L651.9 854.5M542.9 829.3L646.3 860.3" fill="none" stroke="#262626" stroke-width="2.5"/>
<path d="M580.8 797.6L680.5 826.8M574.2 802L675 831.5M567.3 806.9L669.1 836.4M561 812.3L663 841.3M555.5 817.4L657 846.4M550.5 822.4L651.4 851.6M545.6 827.4L645.8 857.4" fill="none" stroke="#8c8c8c" stroke-width="1.2" stroke-dasharray="2.4 1.2"/>
<path d="M579.4 768.9L814.4 836.8" fill="none" stroke="#333" stroke-width="1.4" stroke-dasharray="4.3 0.7"/>
<path d="M814.4 836.8C815 836.9 817.2 837.3 818 837.7C818.9 838 819.3 838.5 819.6 839C819.8 839.5 819.5 840.3 819.4 840.6M579.4 768.9L497.8 840.6M497.8 840.6L497.9 842.6L498.3 844.2M814.7 839.1L738.3 905.8M819.2 840.8L740.4 909.8M820.8 843.3L740.9 914.2M819.5 839.2C819.7 839.5 820.6 840.5 820.8 841.2C821.1 841.9 820.8 842.9 820.8 843.3M738.3 905.8C738.3 907.1 738.7 912 738.5 913.8C738.3 915.7 738 916.2 737.3 916.9C736.5 917.6 734.5 917.9 733.9 918.1M740.9 914.2L738.6 916.6M591.4 775.5C588.8 777.2 580.8 781.8 575.5 785.4C570.2 788.9 564.1 793.6 559.5 797.1C554.8 800.6 551.1 803.5 547.4 806.4C543.7 809.4 540.6 811.9 537.4 814.7C534.2 817.5 530.9 820.5 528.4 823.2C525.8 825.8 523.7 828.1 521.9 830.8C520.1 833.6 518.3 838.1 517.5 839.5M595.2 783.9C592.9 784.9 585.7 787.8 581.5 790C577.4 792.2 574.1 794.6 570.5 797.1C566.9 799.5 563.1 802.2 559.8 804.8C556.5 807.3 553.7 809.7 550.6 812.5C547.6 815.3 544.2 818.4 541.4 821.5C538.6 824.5 536.2 827.4 534 830.8C531.9 834.3 529.6 840.3 528.7 842.2M517.5 839.5L528.7 842.6M591.2 787.4L661.8 807.2M529.4 841.6L600.5 859.8M693.8 814L675.6 823.9M693.8 814L705.5 824.4M703.3 830.7C701.4 831.5 695.4 833.6 691.9 835.2C688.4 836.8 685.7 838.2 682.2 840.4C678.8 842.6 674.6 845.6 671.2 848.2C667.8 850.9 664.8 853.5 661.8 856.3C658.9 859 656 861.6 653.5 864.6C651 867.7 647.9 873.1 646.8 874.7M635.3 858.4C634.7 859.4 632.5 862.2 631.4 864.3C630.3 866.4 629.1 870.1 628.7 871.3M698.1 829.5L698.1 868.6M705.8 824.5L705.8 868.6M698.1 868.6C698.2 869.4 698.3 872.3 699 873.7C699.7 875 701.3 876.8 702.4 876.7C703.4 876.7 704.6 874.7 705.2 873.3C705.7 872 705.7 869.4 705.8 868.6M702.5 876.9L686.5 886.9M778.8 843.6L778.6 853.3M797.2 835C796.9 836 796.3 838.5 795.3 840.9C794.3 843.3 793.2 846.3 791.3 849.6C789.3 852.9 786.4 857.3 783.7 860.6C781 863.8 777.9 866.5 774.9 869.3C771.8 872.1 768.7 874.9 765.5 877.3C762.3 879.8 758.8 882 755.5 884C752.1 886.1 749 887.8 745.4 889.7C741.9 891.6 737.5 893.8 734.1 895.4C730.6 897 726.3 898.6 724.7 899.2M787.1 839.6C786.6 840.7 785.3 844.2 784.2 846.2C783.1 848.3 782 849.4 780.4 851.7C778.9 854 776.9 857.3 774.9 860C772.8 862.6 770.6 865.1 768.2 867.6C765.7 870.2 763.2 872.6 760.2 875C757.2 877.4 753.6 879.8 750.1 882C746.7 884.3 743 886.4 739.6 888.4C736.1 890.4 732.4 892.6 729.4 894.1C726.4 895.6 722.7 896.8 721.4 897.3" fill="none" stroke="#3a3a3a" stroke-width="0.8"/>
<path d="M497.8 840.6L738.3 905.8M591.4 775.5L797.2 835M597.9 781.7L790.6 837.4M797.2 835L788.1 839.9M591.4 775.5L598.2 782.1M503.1 837.9L736.7 905.1M498.1 844L738.4 910.1M512 849.1L738.4 913.3M644.2 817.1L680.5 827.9M693.8 814C694.1 815.2 694.9 819.1 695.6 821.5C696.3 823.9 697.4 827.2 697.8 828.4M705.5 824.4C704.7 824.7 701.9 824.8 700.6 825.8C699.3 826.8 698.3 829.7 697.8 830.5M698.1 868.6L675.5 883.5M700 866.6L702.6 865.9L705.8 866.7L749.9 879.4M702.5 876.9L740 887M705.5 824.4L779.7 846.4M779.7 846.4C780.1 845.6 781 842.7 782.2 841.6C783.5 840.4 786.3 839.9 787.1 839.6" fill="none" stroke="#3c3c3c" stroke-width="1.05" stroke-dasharray="3.2 1.2"/>
<path d="M580.6 769.7L499.4 841.3M591.4 775.5L595.2 783.9L598.2 782.1M749.9 879.4C748.4 880.5 743.8 883.9 740.8 885.7C737.7 887.5 734.3 888.9 731.4 890.1C728.5 891.2 726 891.8 723.4 892.4C720.7 893 716.7 893.3 715.3 893.5M669.8 817.7C670.2 817.4 671 816.6 671.9 816.3C672.7 816.1 674.4 816.1 675.2 816.3C676 816.5 676.6 817.4 676.9 817.6" fill="none" stroke="#585858" stroke-width="0.7"/>
<path d="M596.3 785.1L693.8 814L788.1 839.9M517.5 839.5L628.7 871.3" fill="none" stroke="#333" stroke-width="1.3" stroke-dasharray="2.9 1.1"/>
<path d="M628.7 871.3L722.4 897.6" fill="none" stroke="#333" stroke-width="1.6" stroke-dasharray="1.8 0.5"/>
<path d="M661.8 807.2L644.2 817.1M600.5 859.8L605.5 850.7" fill="none" stroke="#555" stroke-width="1.7"/>
<ellipse cx="0" cy="0" rx="2.6" ry="5.8" fill="none" stroke="#3a3a3a" stroke-width="1.2" transform="matrix(0.669 0.000 0.000 0.669 664.9 864.5) rotate(14)"/>
<ellipse cx="0" cy="0" rx="8.6" ry="4.6" fill="none" stroke="#3a3a3a" stroke-width="1.2" transform="matrix(0.669 0.000 0.000 0.669 673.6 816.1) rotate(8)"/>
<path d="M496.4 853.2 L738.4 914.8" fill="none" stroke="#444" stroke-width="0.9" stroke-dasharray="3.2 1.2"/>
<path d="M497.4 846.5 L512 850.2 L620 880.5" fill="none" stroke="#555" stroke-width="0.8" stroke-dasharray="3.2 1.2"/>
<!-- clock 24h -->
<g>
  <circle cx="751" cy="765.4" r="37.9" fill="#fff" stroke="#222" stroke-width="1.1"/>
  <circle cx="751" cy="765.4" r="35" fill="#fff" stroke="#222" stroke-width="1"/>
  <path d="M753.8 765.4 V737.7 A27.8 27.8 0 1 1 723.4 767.9 H751.2 Z" fill="#dbd9d9"/>
  <path d="M749.2 763.2 V736.6 H746.6 L751.4 731.6 L756.2 736.6 H753.6 V763.6 A3 3 0 1 1 748.8 767.6 H723 V770 L718.2 765.4 L723 760.9 V763.2 Z" fill="#fff" stroke="#2a2a2a" stroke-width="0.9" stroke-linejoin="miter"/>
  <circle cx="751.2" cy="765.4" r="2.9" fill="#fff" stroke="#2a2a2a" stroke-width="0.9"/>
  <text x="736.6" y="784.8" font-size="14" font-weight="bold" textLength="29.4" lengthAdjust="spacingAndGlyphs" fill="#1a1a1a">24 h</text>
</g>
</g>

<!-- badges -->
<g>
  <g fill="#1c1c1c">
    <rect x="802.3" y="104.5" width="22.6" height="15.4"/>
    <rect x="449.8" y="396.9" width="22.8" height="15.8"/>
    <rect x="802.4" y="397.1" width="22.4" height="15.6"/>
    <rect x="450" y="724.2" width="23.6" height="14.6"/>
    <rect x="800.5" y="725.2" width="23" height="14.6"/>
  </g>
  <g fill="#fff" font-size="14" font-weight="bold" text-anchor="middle" lengthAdjust="spacingAndGlyphs">
    <text x="813.4" y="117.8" textLength="7.4" lengthAdjust="spacingAndGlyphs">1</text>
    <text x="461.4" y="410.3" textLength="9" lengthAdjust="spacingAndGlyphs">2</text>
    <text x="813.6" y="410.3" textLength="9" lengthAdjust="spacingAndGlyphs">3</text>
    <text x="461.8" y="736.6" textLength="9.2" lengthAdjust="spacingAndGlyphs">4</text>
    <text x="812" y="737.6" textLength="9" lengthAdjust="spacingAndGlyphs">5</text>
  </g>
</g>

<!-- footer -->
<g fill="#2a2a2a" font-size="5.6">
  <text x="142" y="968.6" textLength="195.4" lengthAdjust="spacingAndGlyphs">Sanindusa S.A. reserva o direito de fazer alterações tecnicas sem aviso prévio.</text>
  <text x="347.1" y="968.6" textLength="238.3" lengthAdjust="spacingAndGlyphs">Sanindusa S.A. reserves the right to introduce technical improvements without previous notice.</text>
  <text x="594.8" y="968.6" textLength="231.6" lengthAdjust="spacingAndGlyphs">Sanindusa S.A. réserve le droit de faire des altérations techniques sans information préalable.</text>
</g>

</svg>
</body>
</html>
